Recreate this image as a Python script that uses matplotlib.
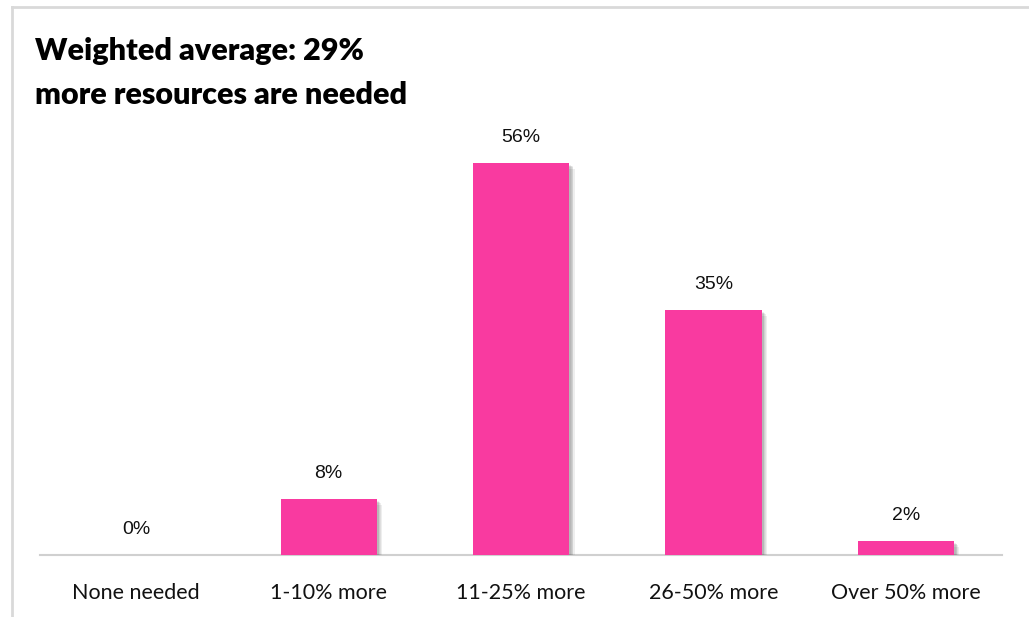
import matplotlib.pyplot as plt
import matplotlib.patheffects as pe
from matplotlib.lines import Line2D
import numpy as np

categories = ['None needed', '1-10% more', '11-25% more', '26-50% more', 'Over 50% more']
values = [0, 8, 56, 35, 2]
value_labels = ['0%', '8%', '56%', '35%', '2%']

pink = '#F93AA0'

fig = plt.figure(figsize=(10.29, 6.17), dpi=100)
# ax spans x 40..1002, y baseline at 555, top at 135 (0..60)
ax = fig.add_axes([40 / 1029, 1 - 555 / 617, 962 / 1029, 420 / 617])

x = np.arange(len(categories))
# soft drop shadow, built from a few stacked offsets
shadow = [pe.SimplePatchShadow(offset=(d, -d), shadow_rgbFace='#444444', alpha=0.09) for d in (4, 3, 2.5, 2, 1.5)]
shadow.append(pe.Normal())
bars = ax.bar(x, values, width=0.5, color=pink, zorder=3)
for b in bars:
    b.set_path_effects(shadow)

for xi, v, lab in zip(x, values, value_labels):
    ax.annotate(lab, (xi, v), xytext=(0, 18.5), textcoords='offset points',
                ha='center', va='center', fontsize=14, family='Liberation Sans', color='#111111')

ax.set_xlim(-0.5, 4.5)
ax.set_ylim(0, 60)
ax.set_yticks([])
ax.set_xticks(x)
ax.set_xticklabels(categories, fontsize=15.5, family='Lato', color='#111111')
ax.tick_params(axis='x', length=0, pad=20)
for s in ['top', 'right', 'left']:
    ax.spines[s].set_visible(False)
ax.spines['bottom'].set_color('#d0d0d0')
ax.spines['bottom'].set_linewidth(1.5)
ax.patch.set_alpha(0)

fig.text(35 / 1029, 1 - 51 / 617, 'Weighted average: 29%', fontsize=22, fontweight='heavy',
         family='Lato', va='center', ha='left', color='black')
fig.text(35 / 1029, 1 - 95 / 617, 'more resources are needed', fontsize=22, fontweight='heavy',
         family='Lato', va='center', ha='left', color='black')

# outer light border (top and left visible)
fig.add_artist(Line2D([11.5 / 1029, 11.5 / 1029], [0, 1 - 6.5 / 617], color='#d9d9d9', lw=2))
fig.add_artist(Line2D([11.5 / 1029, 1], [1 - 6.5 / 617, 1 - 6.5 / 617], color='#d9d9d9', lw=2))

fig.savefig('out.png', dpi=100)
